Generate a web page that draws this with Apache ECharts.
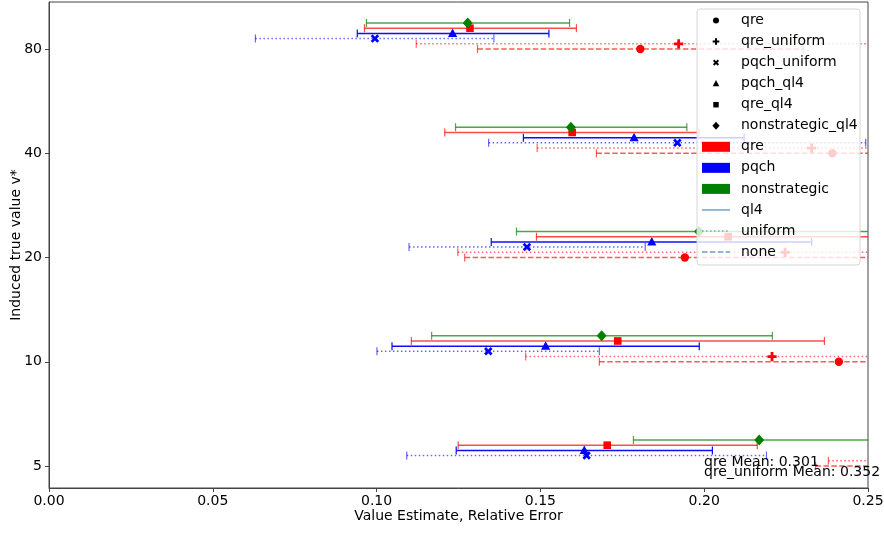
<!DOCTYPE html>
<html>
<head>
<meta charset="utf-8">
<script src="https://cdn.jsdelivr.net/npm/echarts@6/dist/echarts.min.js"></script>
<style>
html, body { margin: 0; padding: 0; background: #fff; }
#chart { width: 884px; height: 533px; }
</style>
</head>
<body>
<div id="chart"></div>
<script>
// true values v*, drawn on a log2 scale (level 5 -> 0)
const levels = [5, 10, 20, 40, 80]
const levelTicks = [0, 1, 2, 3, 4]

// relative error: lower end, estimate, upper end, one entry per level (5, 10, 20, 40, 80)
const qreLo = [0.234, 0.168, 0.1269, 0.1671, 0.1308]
const qreMid = [0.301, 0.2411, 0.1941, 0.2391, 0.1805]
const qreHi = [0.368, 0.314, 0.261, 0.311, 0.2302]

const qreUniformLo = [0.2379, 0.1455, 0.1248, 0.149, 0.1121]
const qreUniformMid = [0.352, 0.2207, 0.2247, 0.2328, 0.1922]
const qreUniformHi = [0.466, 0.296, 0.325, 0.317, 0.272]

const pqchUniformLo = [0.1092, 0.1001, 0.1099, 0.1342, 0.063]
const pqchUniformMid = [0.1641, 0.1341, 0.1459, 0.1918, 0.0995]
const pqchUniformHi = [0.219, 0.168, 0.182, 0.2493, 0.1358]

const pqchQl4Lo = [0.1243, 0.1047, 0.135, 0.1448, 0.0941]
const pqchQl4Mid = [0.1634, 0.1516, 0.184, 0.1786, 0.1232]
const pqchQl4Hi = [0.2025, 0.1985, 0.2328, 0.2122, 0.1526]

const qreQl4Lo = [0.1249, 0.1106, 0.1488, 0.1208, 0.0963]
const qreQl4Mid = [0.1704, 0.1736, 0.2073, 0.1597, 0.1285]
const qreQl4Hi = [0.2162, 0.2367, 0.266, 0.1984, 0.161]

const nonstratQl4Lo = [0.1784, 0.1168, 0.1427, 0.1241, 0.0969]
const nonstratQl4Mid = [0.2168, 0.1687, 0.1984, 0.1593, 0.1278]
const nonstratQl4Hi = [0.255, 0.2208, 0.254, 0.1947, 0.1589]

const meanLabels = ['qre Mean: 0.301', 'qre_uniform Mean: 0.352']

const FONT = 'DejaVu Sans'
const RED = '#ff0000'
const BLUE = '#0000ff'
const GREEN = '#008000'
const DOTTED = [1.5, 2.5]
const DASHED = [5.5, 2.4]

const rows = [
    { name: 'qre', lo: qreLo, mid: qreMid, hi: qreHi, color: RED, dash: DASHED, marker: 'circle', shift: 0, alpha: 0.65 },
    { name: 'qre_uniform', lo: qreUniformLo, mid: qreUniformMid, hi: qreUniformHi, color: RED, dash: DOTTED, marker: 'plus', shift: 5.2, alpha: 0.6 },
    { name: 'pqch_uniform', lo: pqchUniformLo, mid: pqchUniformMid, hi: pqchUniformHi, color: BLUE, dash: DOTTED, marker: 'x', shift: 10.4, alpha: 0.6 },
    { name: 'pqch_ql4', lo: pqchQl4Lo, mid: pqchQl4Mid, hi: pqchQl4Hi, color: BLUE, dash: null, marker: 'triangle', shift: 15.6, alpha: 0.95 },
    { name: 'qre_ql4', lo: qreQl4Lo, mid: qreQl4Mid, hi: qreQl4Hi, color: RED, dash: null, marker: 'square', shift: 20.8, alpha: 0.7 },
    { name: 'nonstrategic_ql4', lo: nonstratQl4Lo, mid: nonstratQl4Mid, hi: nonstratQl4Hi, color: GREEN, dash: null, marker: 'diamond', shift: 26, alpha: 0.7 }
]

// marker shapes in pixel space, centred on (x, y)
function markerShape(kind, x, y, s, color) {
    const style = { fill: color }
    if (kind === 'circle') return { type: 'circle', shape: { cx: x, cy: y, r: 4.2 * s }, style }
    if (kind === 'square') return { type: 'rect', shape: { x: x - 3.8 * s, y: y - 3.8 * s, width: 7.6 * s, height: 7.6 * s }, style }
    if (kind === 'triangle') return { type: 'polygon', shape: { points: [[x, y - 5 * s], [x + 4.6 * s, y + 3.6 * s], [x - 4.6 * s, y + 3.6 * s]] }, style }
    if (kind === 'diamond') return { type: 'polygon', shape: { points: [[x, y - 5.6 * s], [x + 5 * s, y], [x, y + 5.6 * s], [x - 5 * s, y]] }, style }
    const a = 4.6 * s, t = 1.4 * s
    let pts = [[-t, -a], [t, -a], [t, -t], [a, -t], [a, t], [t, t], [t, a], [-t, a], [-t, t], [-a, t], [-a, -t], [-t, -t]]
    if (kind === 'x') {
        const c = Math.SQRT1_2
        pts = pts.map(p => [(p[0] - p[1]) * c, (p[0] + p[1]) * c])
    }
    return { type: 'polygon', shape: { points: pts.map(p => [x + p[0], y + p[1]]) }, style }
}

function makeSeries(row) {
    const data = levels.map((v, i) => [row.lo[i], row.mid[i], row.hi[i], Math.log2(v / 5)])
    return {
        type: 'custom',
        name: row.name,
        clip: true,
        data,
        encode: { x: [0, 1, 2], y: 3 },
        renderItem: (params, api) => {
            const a = api.coord([api.value(0), api.value(3)])
            const m = api.coord([api.value(1), api.value(3)])
            const b = api.coord([api.value(2), api.value(3)])
            const y = a[1] - row.shift
            const lineStyle = { stroke: row.color, lineWidth: 1.5, opacity: row.alpha, lineDash: row.dash }
            const capStyle = { stroke: row.color, lineWidth: 1.2, opacity: row.alpha }
            return {
                type: 'group',
                children: [
                    { type: 'line', shape: { x1: a[0], y1: y, x2: b[0], y2: y }, style: lineStyle },
                    { type: 'line', shape: { x1: a[0], y1: y - 4, x2: a[0], y2: y + 4 }, style: capStyle },
                    { type: 'line', shape: { x1: b[0], y1: y - 4, x2: b[0], y2: y + 4 }, style: capStyle },
                    markerShape(row.marker, m[0], y, 1, row.color)
                ]
            }
        }
    }
}

// matplotlib-like legend box, drawn as graphics above the series
function legendGraphics() {
    const x0 = 697, y0 = 9, rowH = 21.05, tx = 741
    const els = [{
        type: 'rect', z: 100,
        shape: { x: x0, y: y0, width: 163, height: 256, r: 3 },
        style: { fill: 'rgba(255,255,255,0.8)', stroke: '#d6d6d6', lineWidth: 1 }
    }]
    const text = (label, i) => ({
        type: 'text', z: 101,
        style: { text: label, x: tx, y: y0 + 11.5 + i * rowH, fill: '#000', font: '14px "' + FONT + '"', verticalAlign: 'middle' }
    })
    rows.forEach((row, i) => {
        const m = markerShape(row.marker, 716, y0 + 11.5 + i * rowH, 0.72, '#000')
        m.z = 101
        els.push(m, text(row.name, i))
    })
    const patches = [['qre', RED], ['pqch', BLUE], ['nonstrategic', GREEN]]
    patches.forEach((p, j) => {
        const i = rows.length + j
        els.push({
            type: 'rect', z: 101,
            shape: { x: 702, y: y0 + 6.5 + i * rowH, width: 28, height: 10 },
            style: { fill: p[1] }
        }, text(p[0], i))
    })
    const styles = [['ql4', null], ['uniform', DOTTED], ['none', DASHED]]
    styles.forEach((p, j) => {
        const i = rows.length + patches.length + j
        const y = y0 + 11.5 + i * rowH
        els.push({
            type: 'line', z: 101,
            shape: { x1: 702, y1: y, x2: 730, y2: y },
            style: { stroke: '#1f77b4', opacity: 0.65, lineWidth: 1.5, lineDash: p[1] }
        }, text(p[0], i))
    })
    meanLabels.forEach((label, i) => {
        els.push({
            type: 'text', z: 102,
            style: { text: label, x: 704, y: 462 + i * 10.5, fill: '#000', font: '14px "' + FONT + '"', verticalAlign: 'middle' }
        })
    })
    return els
}

const chart = echarts.init(document.getElementById('chart'), null, { renderer: 'canvas' })
chart.setOption({
    animation: false,
    backgroundColor: '#fff',
    textStyle: { fontFamily: FONT },
    grid: {
        left: 49, right: 16, top: 2, bottom: 45,
        containLabel: false, outerBoundsMode: 'none',
        show: true, borderColor: '#444', borderWidth: 1
    },
    xAxis: {
        type: 'value',
        min: 0,
        max: 0.25,
        interval: 0.05,
        name: 'Value Estimate, Relative Error',
        nameLocation: 'middle',
        nameGap: 21,
        nameMoveOverlap: false,
        nameTextStyle: { fontSize: 14, color: '#000', fontFamily: FONT },
        axisLine: { onZero: false, lineStyle: { color: '#444' } },
        axisTick: { show: true, length: 4, lineStyle: { color: '#444' } },
        axisLabel: { fontSize: 14, color: '#000', margin: 6, fontFamily: FONT, formatter: v => v.toFixed(2) },
        splitLine: { show: false }
    },
    yAxis: {
        type: 'value',
        min: -0.211,
        max: 4.451,
        name: 'Induced true value v*',
        nameLocation: 'middle',
        nameGap: 26,
        nameMoveOverlap: false,
        nameTextStyle: { fontSize: 14, color: '#000', fontFamily: FONT },
        axisLine: { show: true, onZero: false, lineStyle: { color: '#444' } },
        axisTick: { show: true, length: 4, customValues: levelTicks, lineStyle: { color: '#444' } },
        axisLabel: { fontSize: 14, color: '#000', margin: 7, fontFamily: FONT, customValues: levelTicks, formatter: v => String(5 * Math.pow(2, v)) },
        splitLine: { show: false }
    },
    series: rows.map(makeSeries),
    graphic: legendGraphics()
})
</script>
</body>
</html>
